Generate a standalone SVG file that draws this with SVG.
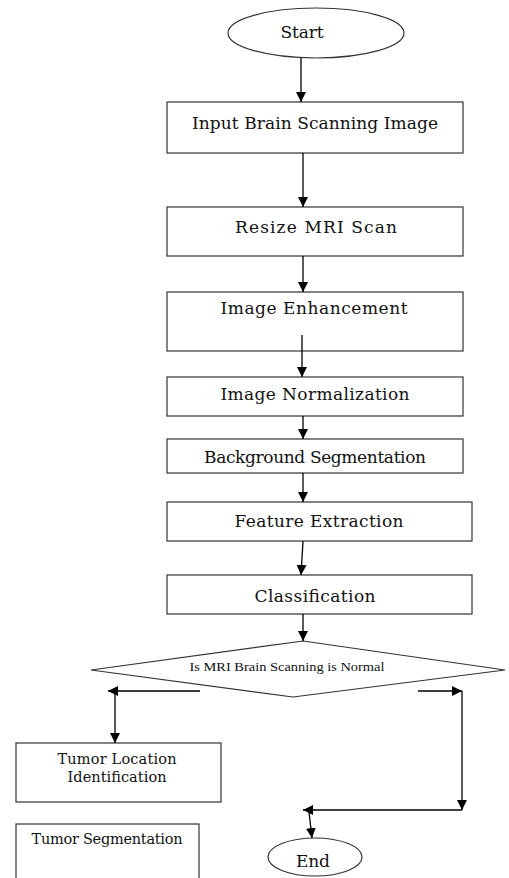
<svg xmlns="http://www.w3.org/2000/svg" width="509" height="878" viewBox="0 0 509 878">
<defs>
<marker id="ah" markerWidth="10" markerHeight="10" viewBox="0 0 10 10" refX="10" refY="5" orient="auto" markerUnits="userSpaceOnUse">
<path d="M0,0 L10,5 L0,10 Z" fill="#000"/>
</marker>
<style>
.box{fill:#fff;stroke:#333;stroke-width:1.2}
.t{font-family:"DejaVu Serif","Liberation Serif",serif;font-size:17px;fill:#111;text-anchor:middle}
.s{font-family:"DejaVu Serif","Liberation Serif",serif;font-size:14.5px;fill:#111;text-anchor:middle}
.d{font-family:"Liberation Serif",serif;font-size:12.5px;fill:#111;text-anchor:middle}
.c{fill:none;stroke:#000;stroke-width:1.3}
.ca{fill:none;stroke:#000;stroke-width:1.3;marker-end:url(#ah)}
</style>
</defs>
<rect width="509" height="878" fill="#fff"/>
<g id="start"><ellipse class="box" cx="316" cy="33" rx="88" ry="25"/><text class="t" x="302" y="38" textLength="43">Start</text></g>
<g id="input"><rect class="box" x="167" y="102" width="296" height="51"/><text class="t" x="315" y="129" textLength="246">Input Brain Scanning Image</text></g>
<g id="resize"><rect class="box" x="167" y="207" width="296" height="49"/><text class="t" x="316" y="233" textLength="162">Resize MRI Scan</text></g>
<g id="enhance"><rect class="box" x="167" y="292" width="296" height="59"/><text class="t" x="314" y="314" textLength="187">Image Enhancement</text></g>
<g id="normalize"><rect class="box" x="167" y="377" width="296" height="39"/><text class="t" x="315" y="400" textLength="189">Image Normalization</text></g>
<g id="background"><rect class="box" x="167" y="439" width="296" height="34"/><text class="t" x="315" y="463" textLength="222">Background Segmentation</text></g>
<g id="feature"><rect class="box" x="167" y="502" width="305" height="39"/><text class="t" x="319" y="527" textLength="169">Feature Extraction</text></g>
<g id="classify"><rect class="box" x="167" y="575" width="305" height="39"/><text class="t" x="315" y="602" textLength="121">Classification</text></g>
<g id="decision"><polygon class="box" points="303,641 505,670 293,697 91,670"/><text class="d" x="287" y="671" textLength="195" lengthAdjust="spacingAndGlyphs">Is MRI Brain Scanning is Normal</text></g>
<g id="location"><rect class="box" x="16" y="743" width="205" height="59"/><text class="s" x="117" y="764" textLength="119">Tumor Location</text><text class="s" x="117" y="782" textLength="99">Identification</text></g>
<g id="segmentation"><rect class="box" x="16" y="824" width="183" height="60"/><text class="s" x="107" y="844" textLength="151">Tumor Segmentation</text></g>
<g id="end"><ellipse class="box" cx="315" cy="857" rx="47" ry="19"/><text class="t" x="313" y="867" textLength="34">End</text></g>
<g id="connectors">
<line class="ca" x1="301" y1="58" x2="301" y2="102"/>
<line class="ca" x1="303" y1="153" x2="303" y2="207"/>
<line class="ca" x1="303" y1="256" x2="303" y2="292"/>
<line class="ca" x1="302" y1="335" x2="302" y2="377"/>
<line class="ca" x1="303" y1="416" x2="303" y2="439"/>
<line class="ca" x1="303" y1="473" x2="303" y2="502"/>
<line class="ca" x1="303" y1="541" x2="301" y2="575"/>
<line class="ca" x1="303" y1="614" x2="303" y2="641"/>
<line class="ca" x1="200" y1="691" x2="108" y2="691"/>
<line class="ca" x1="115" y1="691" x2="115" y2="743"/>
<line class="ca" x1="418" y1="691" x2="462" y2="691"/>
<line class="ca" x1="462" y1="691" x2="462" y2="810"/>
<line class="ca" x1="462" y1="810" x2="303" y2="810"/>
<line class="ca" x1="309" y1="812" x2="312" y2="838"/>
</g>
</svg>
